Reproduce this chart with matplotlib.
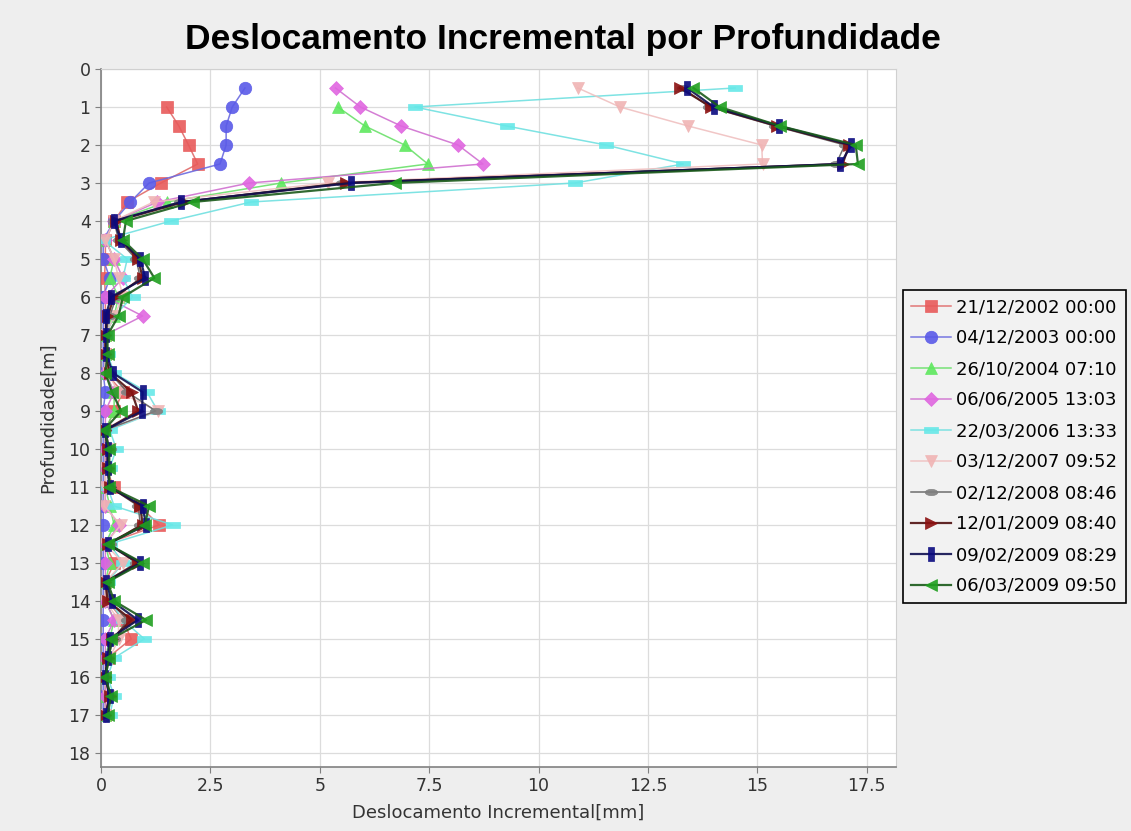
import numpy as np
import matplotlib
matplotlib.use("Agg")
import matplotlib.pyplot as plt
from matplotlib.path import Path

# ── Dados ─────────────────────────────────────────────────
profundidades = [0.5, 1, 1.5, 2, 2.5, 3, 3.5, 4, 4.5, 5, 5.5, 6, 6.5, 7, 7.5, 8, 8.5,
                 9, 9.5, 10, 10.5, 11, 11.5, 12, 12.5, 13, 13.5, 14, 14.5, 15, 15.5,
                 16, 16.5, 17]

datas = ['21/12/2002 00:00', '04/12/2003 00:00', '26/10/2004 07:10',
         '06/06/2005 13:03', '22/03/2006 13:33', '03/12/2007 09:52',
         '02/12/2008 08:46', '12/01/2009 08:40', '09/02/2009 08:29',
         '06/03/2009 09:50']

# primeira leitura começa em 1 m (sem valor em 0.5)
s2002 = [None, 1.5, 1.78, 2.0, 2.21, 1.37, 0.6, 0.3, 0.1, 0.1, 0.08, 0.1, 0.1, 0.1, 0.1,
         0.1, 0.5, 0.3, 0.1, 0.1, 0.1, 0.3, 0.88, 1.33, 0.1, 0.3, 0.1, 0.15, 0.5, 0.69,
         0.15, 0.1, 0.1, 0.1]
s2003 = [3.29, 3.0, 2.86, 2.86, 2.72, 1.1, 0.67, 0.3, 0.05, 0.05, 0.2, 0.05, 0.05, 0.05,
         0.05, 0.05, 0.1, 0.05, 0.05, 0.05, 0.05, 0.05, 0.05, 0.05, 0.05, 0.05, 0.05,
         0.05, 0.05, 0.05, 0.05, 0.05, 0.05, 0.05]
s2004 = [None, 5.41, 6.03, 6.94, 7.47, 4.12, 1.5, 0.3, 0.1, 0.3, 0.2, 0.4, 0.3, 0.1, 0.1,
         0.1, 0.3, 0.3, 0.1, 0.1, 0.1, 0.1, 0.2, 0.3, 0.1, 0.2, 0.1, 0.1, 0.3, 0.2, 0.1,
         0.1, 0.1, 0.1]
s2005 = [5.36, 5.93, 6.86, 8.16, 8.73, 3.39, 1.29, 0.3, 0.1, 0.3, 0.5, 0.1, 0.95, 0.1,
         0.1, 0.1, 0.3, 0.1, 0.1, 0.1, 0.1, 0.1, 0.1, 0.42, 0.1, 0.1, 0.1, 0.1, 0.3, 0.1,
         0.1, 0.1, 0.1, 0.1]
s2006 = [14.49, 7.17, 9.27, 11.54, 13.31, 10.83, 3.43, 1.6, 0.05, 0.6, 0.5, 0.72, 0.3,
         0.1, 0.15, 0.3, 1.05, 1.3, 0.2, 0.35, 0.2, 0.15, 0.3, 1.64, 0.2, 0.5, 0.15, 0.2,
         0.5, 0.99, 0.3, 0.15, 0.3, 0.2]
s2007 = [10.9, 11.86, 13.42, 15.1, 15.12, 5.19, 1.2, 0.3, 0.1, 0.3, 0.4, 0.5, 0.3, 0.1,
         0.1, 0.15, 0.4, 1.3, 0.1, 0.2, 0.1, 0.1, 0.07, 0.45, 0.1, 0.5, 0.1, 0.1, 0.4,
         0.4, 0.2, 0.1, 0.15, 0.1]
s2008 = [13.3, 13.9, 15.4, 17.0, 16.8, 5.5, 1.8, 0.3, 0.4, 0.8, 0.9, 0.35, 0.2, 0.1, 0.1,
         0.2, 0.6, 1.25, 0.1, 0.2, 0.15, 0.2, 0.85, 0.9, 0.2, 0.8, 0.1, 0.2, 0.6, 0.3,
         0.15, 0.1, 0.2, 0.1]
s2009a = [13.23, 13.95, 15.45, 17.1, 16.95, 5.6, 1.9, 0.35, 0.45, 0.85, 0.95, 0.3, 0.15,
          0.1, 0.1, 0.2, 0.7, 0.85, 0.1, 0.15, 0.15, 0.2, 0.9, 0.95, 0.15, 0.85, 0.1,
          0.15, 0.7, 0.25, 0.15, 0.1, 0.2, 0.1]
s2009b = [13.4, 14.0, 15.5, 17.15, 16.9, 5.72, 1.83, 0.3, 0.45, 0.9, 1.01, 0.23, 0.11,
          0.12, 0.12, 0.27, 0.95, 0.94, 0.1, 0.15, 0.15, 0.2, 0.95, 1.03, 0.15, 0.9, 0.12,
          0.25, 0.84, 0.2, 0.15, 0.1, 0.2, 0.12]
s2009c = [13.54, 14.14, 15.52, 17.25, 17.3, 6.71, 2.1, 0.57, 0.5, 0.95, 1.22, 0.5, 0.4,
          0.15, 0.15, 0.1, 0.25, 0.46, 0.07, 0.19, 0.19, 0.19, 1.1, 1.0, 0.15, 0.95, 0.15,
          0.3, 1.03, 0.23, 0.19, 0.1, 0.23, 0.15]

series = [s2002, s2003, s2004, s2005, s2006, s2007, s2008, s2009a, s2009b, s2009c]

# ── Estilo (cores e formas padrão do JFreeChart) ──────────
cores = ['#e85a5a', '#5a5ae8', '#5ee85e', '#e066e0', '#66e8e8',
         '#f0b4b4', '#7f7f7f', '#8b1010', '#0a0a80', '#20a020']
cores_linha = ['#e06a6a', '#6a6ae0', '#6ae06a', '#d070d0', '#70e0e0',
               '#f0c0c0', '#606060', '#501010', '#101050', '#1a5a1a']

ret_h = Path([(-1, -0.5), (1, -0.5), (1, 0.5), (-1, 0.5), (-1, -0.5)],
             [Path.MOVETO, Path.LINETO, Path.LINETO, Path.LINETO, Path.CLOSEPOLY])
ret_v = Path([(-0.5, -1), (0.5, -1), (0.5, 1), (-0.5, 1), (-0.5, -1)],
             [Path.MOVETO, Path.LINETO, Path.LINETO, Path.LINETO, Path.CLOSEPOLY])
t = np.linspace(0, 2 * np.pi, 40)
elipse = Path(np.column_stack([np.cos(t), 0.5 * np.sin(t)]))
marcadores = ['s', 'o', '^', 'D', ret_h, 'v', elipse, '>', ret_v, '<']
tamanhos = [9, 9, 9, 7, 10, 9, 9, 9, 10, 9]

# ── Figura ────────────────────────────────────────────────
fig = plt.figure(figsize=(11.31, 8.31), dpi=100, facecolor='#eeeeee')
ax = fig.add_axes([101 / 1131, 1 - 767 / 831, 795 / 1131, 698 / 831])
ax.set_facecolor('white')

prof = np.array(profundidades)
for i, (vals, nome) in enumerate(zip(series, datas)):
    v = np.array([np.nan if x is None else x for x in vals], dtype=float)
    lw = 1.6 if i >= 7 else 1.1
    ax.plot(v, prof, color=cores_linha[i], lw=lw, alpha=0.9,
            marker=marcadores[i], markersize=tamanhos[i],
            markerfacecolor=cores[i], markeredgecolor=cores[i],
            markeredgewidth=0.5, label=nome, zorder=3 + i)

ax.set_xlim(0, 18.17)
ax.set_ylim(18.37, 0)
ax.set_xticks(np.arange(0, 17.6, 2.5))
ax.set_xticklabels(['0', '2.5', '5', '7.5', '10', '12.5', '15', '17.5'])
ax.set_yticks(np.arange(0, 19, 1))
ax.grid(True, color='#dcdcdc', lw=0.9)
ax.set_axisbelow(True)

for lado in ['top', 'right']:
    ax.spines[lado].set_color('#d0d0d0')
for lado in ['left', 'bottom']:
    ax.spines[lado].set_color('#808080')
    ax.spines[lado].set_linewidth(1.2)
ax.tick_params(colors='#808080', labelcolor='#333333', labelsize=12.5, length=4)

ax.set_xlabel('Deslocamento Incremental[mm]', fontsize=13, color='#333333', labelpad=6)
ax.set_ylabel('Profundidade[m]', fontsize=13, color='#333333', labelpad=8)

fig.text(563 / 1131, 1 - 40 / 831, 'Deslocamento Incremental por Profundidade',
         ha='center', va='center', fontsize=25.5, fontweight='bold',
         family='Liberation Sans')

leg = fig.legend(loc='center left', bbox_to_anchor=(903 / 1131, 1 - 446.5 / 831),
                 fontsize=13, frameon=True, fancybox=False, framealpha=1,
                 edgecolor='black', facecolor='#f2f2f2', handlelength=2.2,
                 handletextpad=0.3, labelspacing=0.72, borderpad=0.45,
                 borderaxespad=0)
leg.get_frame().set_linewidth(1.2)

fig.savefig('out.png', dpi=100, facecolor=fig.get_facecolor())
